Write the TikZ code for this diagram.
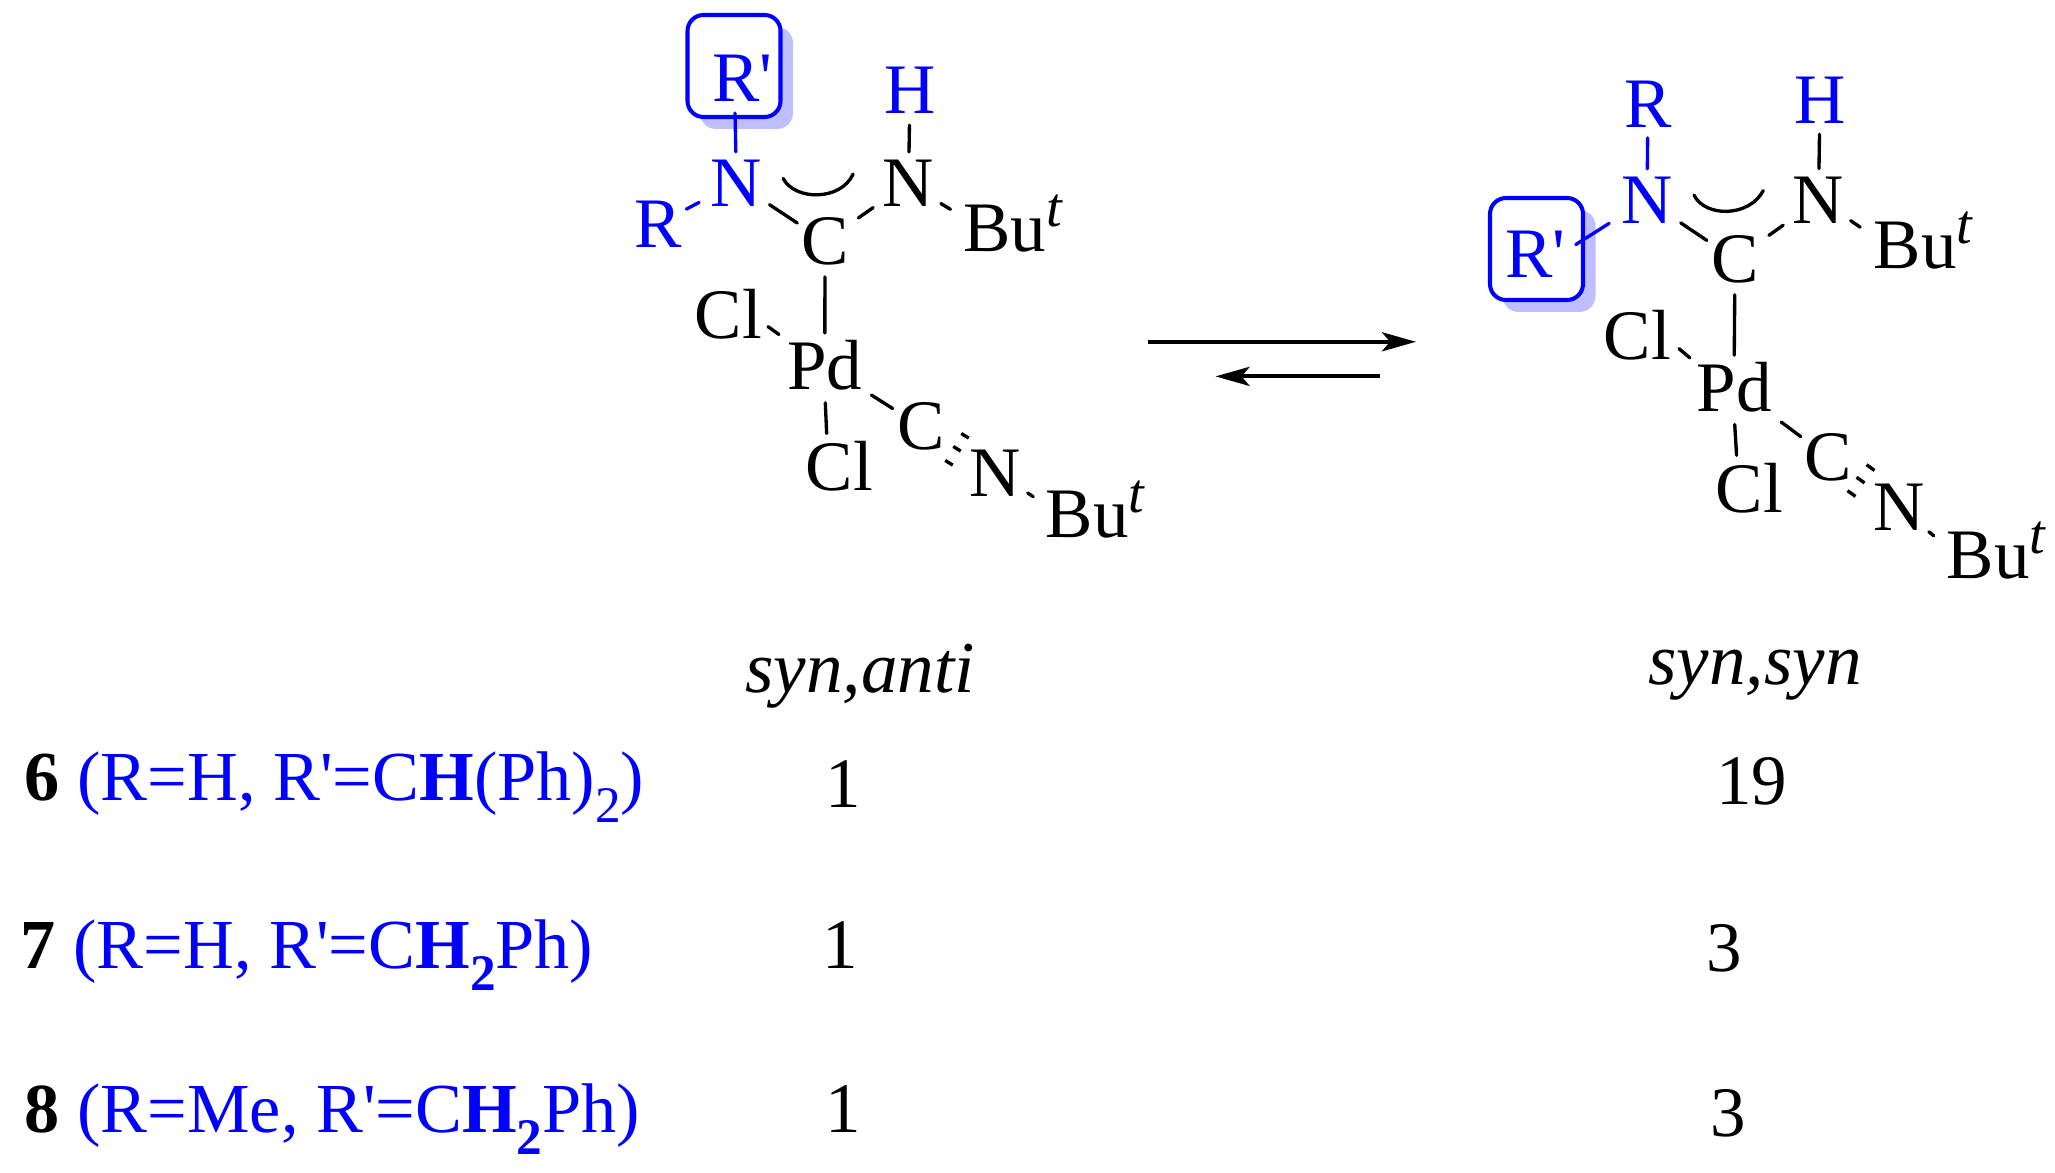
\documentclass[tikz,border=0pt]{standalone}
\usepackage{fontspec}
\setmainfont{Liberation Serif}[Ligatures=TeXOff]
\usetikzlibrary{arrows.meta,shadows}

\newcommand{\subtwo}{\raisebox{-0.22cm}{\fontsize{14.6}{14}\selectfont 2}}
\newcommand{\subtwobf}{\raisebox{-0.22cm}{\fontsize{14.6}{14}\selectfont\bfseries 2}}
\newcommand{\butyl}{Bu\raisebox{0.25cm}{\fontsize{16}{16}\selectfont\itshape t}}

\begin{document}
\begin{tikzpicture}
        \useasboundingbox (0,0) rectangle (20.55,-11.73);

        \definecolor{shadowblue}{RGB}{191,191,255}
        \tikzstyle{every node}=[inner sep=0pt,font=\fontsize{20.2}{24}\selectfont]
        \tikzstyle{atom}=[anchor=base,yshift=-0.015cm]
        \tikzstyle{blueatom}=[anchor=base,yshift=-0.015cm,text=blue]
        \tikzstyle{rest}=[anchor=base west,yshift=-0.015cm]
        \tikzstyle{entry}=[anchor=base west,yshift=-0.015cm,font=\fontsize{20}{24}\selectfont]
        \tikzstyle{head}=[anchor=base,font=\fontsize{20.8}{24}\selectfont\itshape]
        \tikzstyle{rbox}=[draw=blue,fill=white,line width=1.15pt,rounded corners=0.16cm,minimum width=0.93cm,minimum height=1.02cm,
                general shadow={fill=shadowblue,draw=none,shadow xshift=0.125cm,shadow yshift=-0.12cm}]
        \tikzstyle{bond}=[line width=0.95pt,line cap=round,shorten <=0.08cm,shorten >=0.08cm]
        \tikzstyle{tick}=[line width=0.95pt,shorten <=0.38cm,shorten >=0.41cm]
        \tikzstyle{eqarrow}=[line width=1.1pt,-{Stealth[length=0.34cm,width=0.19cm,inset=0.08cm]}]

        %% Draw left complex
        \node [rbox] (Rpa) at (7.34,-0.66) {};
        \node [blueatom] (Rpal) at (7.427,-1.00) {R'};
        \node [blueatom] (Ha) at (9.10,-1.125) {H};
        \node [blueatom] (Na) at (7.365,-2.046) {N};
        \node [atom] (Nb) at (9.085,-2.046) {N};
        \node [blueatom] (Ra) at (6.58,-2.457) {R};
        \node [atom] (Ca) at (8.25,-2.63) {C};
        \node [rest] (Bua) at (9.625,-2.50) {\butyl};
        \node [atom] (Cla) at (7.283,-3.37) {Cl};
        \node [atom] (Pda) at (8.248,-3.885) {Pd};
        \node [atom] (Clb) at (8.395,-4.89) {Cl};
        \node [atom] (Cb) at (9.21,-4.48) {C};
        \node [atom] (Nc) at (9.955,-4.946) {N};
        \node [rest] (Bub) at (10.45,-5.36) {\butyl};

        \draw [bond,blue,shorten <=-0.06cm,shorten >=0.07cm] (Rpa) -- (Na);
        \draw [bond,blue,shorten <=0.045cm,shorten >=0.125cm] (Ra) -- (Na);
        \draw [bond,shorten <=0.08cm,shorten >=0.04cm] (Na) -- (Ca);
        \draw [bond,shorten <=0.11cm,shorten >=0.11cm] (Ca) -- (Nb);
        \draw [bond,shorten <=0.105cm,shorten >=0.07cm] (Ha) -- (Nb);
        \draw [bond,shorten <=0.07cm,shorten >=0.14cm] (Nb.-33) -- (Bua.172);
        \draw [bond,shorten <=0.11cm,shorten >=0.07cm] (Ca) -- (Pda);
        \draw [bond,shorten <=0.067cm,shorten >=0.095cm] (Cla.-14) -- (Pda.146);
        \draw [bond,shorten <=0.115cm,shorten >=0.07cm] (Pda.south) -- (Clb.116);
        \draw [bond,shorten <=0.10cm,shorten >=0.047cm] (Pda) -- (Cb);
        \foreach \dx/\dy in {0.08/0.13,0/0,-0.08/-0.14}
            \draw [tick] ([shift={(\dx,\dy)}]Cb.center) -- ([shift={(\dx,\dy)}]Nc.center);
        \draw [bond,shorten <=0.07cm,shorten >=0.14cm] (Nc.-32) -- (Bub.174);
        \draw [bond] (7.794,-1.714) .. controls (7.95,-2.01) and (8.41,-2.01) .. (8.564,-1.668);

        %% Draw the two arrows
        \coordinate (fwda) at (11.477,-3.418);
        \coordinate (fwdb) at (14.16,-3.418);
        \coordinate (bwda) at (13.80,-3.764);
        \coordinate (bwdb) at (12.155,-3.764);
        \draw [eqarrow] (fwda) -- (fwdb);
        \draw [eqarrow] (bwda) -- (bwdb);

        %right side

        \node [rbox] (Rpb) at (15.365,-2.49) {};
        \node [blueatom] (Rpbl) at (15.356,-2.757) {R'};
        \node [blueatom] (Rb) at (16.48,-1.257) {R};
        \node [blueatom] (Hb) at (18.20,-1.22) {H};
        \node [blueatom] (Nd) at (16.47,-2.22) {N};
        \node [atom] (Ne) at (18.185,-2.22) {N};
        \node [atom] (Cc) at (17.35,-2.81) {C};
        \node [rest] (Buc) at (18.73,-2.668) {\butyl};
        \node [atom] (Clc) at (16.375,-3.58) {Cl};
        \node [atom] (Pdb) at (17.34,-4.096) {Pd};
        \node [atom] (Cld) at (17.495,-5.107) {Cl};
        \node [atom] (Cd) at (18.28,-4.786) {C};
        \node [atom] (Nf) at (18.987,-5.29) {N};
        \node [rest] (Bud) at (19.46,-5.768) {\butyl};

        \draw [bond,blue,shorten <=0.10cm,shorten >=0.075cm] (Rb) -- (Nd);
        \draw [bond,blue,shorten <=-0.11cm,shorten >=0.136cm] (Rpb.12) -- (Nd.211);
        \draw [bond,shorten <=0.089cm,shorten >=0.045cm] (Nd) -- (Cc);
        \draw [bond,shorten <=0.116cm,shorten >=0.11cm] (Cc) -- (Ne);
        \draw [bond,shorten <=0.10cm,shorten >=0.075cm] (Hb) -- (Ne);
        \draw [bond,shorten <=0.07cm,shorten >=0.155cm] (Ne.-32) -- (Buc.175);
        \draw [bond,shorten <=0.11cm,shorten >=0.06cm] (Cc) -- (Pdb);
        \draw [bond,shorten <=0.095cm,shorten >=0.077cm] (Clc.-12) -- (Pdb.148);
        \draw [bond,shorten <=0.12cm,shorten >=0.07cm] (Pdb.south) -- (Cld.116);
        \draw [bond,shorten <=0.16cm,shorten >=0.036cm] (Pdb) -- (Cd);
        \foreach \dx/\dy in {0.10/0.125,0/0,-0.09/-0.135}
            \draw [tick,shorten <=0.35cm,shorten >=0.42cm] ([shift={(\dx,\dy)}]Cd.center) -- ([shift={(\dx,\dy)}]Nf.center);
        \draw [bond,shorten <=0.05cm,shorten >=0.16cm] (Nf.-39) -- (Bud.175);
        \draw [bond] (16.905,-1.88) .. controls (17.05,-2.175) and (17.49,-2.175) .. (17.67,-1.836);

        %% Draw table
        \node [head] (hda) at (8.60,-6.93) {syn,anti};
        \node [head] (hdb) at (17.55,-6.85) {syn,syn};

        \node [entry] (rowa) at (0.24,-7.99) {\textbf{6} \textcolor{blue}{(R=H, R'=C\textbf{H}(Ph)\subtwo)}};
        \node [entry] (rowb) at (0.20,-9.67) {\textbf{7} \textcolor{blue}{(R=H, R'=C\textbf{H}\subtwobf Ph)}};
        \node [entry] (rowc) at (0.24,-11.315) {\textbf{8} \textcolor{blue}{(R=Me, R'=C\textbf{H}\subtwobf Ph)}};

        \node [atom] (vala) at (8.43,-8.06) {1};
        \node [atom] (valb) at (8.40,-9.67) {1};
        \node [atom] (valc) at (8.43,-11.315) {1};
        \node [atom] (vald) at (17.515,-8.03) {19};
        \node [atom] (vale) at (17.24,-9.70) {3};
        \node [atom] (valf) at (17.28,-11.35) {3};
\end{tikzpicture}
\end{document}
